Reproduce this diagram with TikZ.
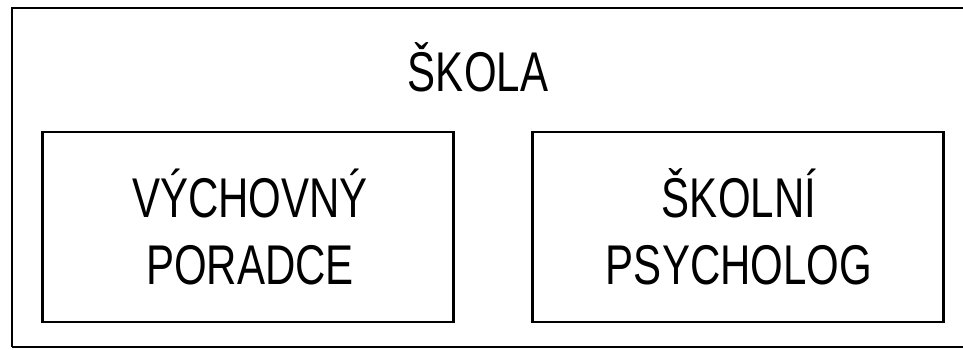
\documentclass[tikz,border=0pt]{standalone}
\usepackage{fontspec}
\setmainfont[FakeStretch=0.75]{Liberation Sans}

\begin{document}
\begin{tikzpicture}[x=1pt,y=-1pt,
  every node/.style={font=\fontsize{56}{67}\selectfont,align=center},
  unitbox/.style={draw,line width=2.6pt,minimum width=411pt,minimum height=190pt}]
  \useasboundingbox (0,0) rectangle (963,349);
  \clip (0,0) rectangle (963,349);
  \draw[line width=2.6pt] (12,347) -- (12,8) -- (980,8);
  \draw[line width=1.2pt] (12,347) -- (980,347);
  \node (skola) at (478,67) {ŠKOLA};
  \node[unitbox] (poradce) at (248,227) {};
  \node[unitbox] (psycholog) at (738,227) {};
  \node at (250,227) {VÝCHOVNÝ\\PORADCE};
  \node at (739,227) {ŠKOLNÍ\\PSYCHOLOG};
\end{tikzpicture}
\end{document}
